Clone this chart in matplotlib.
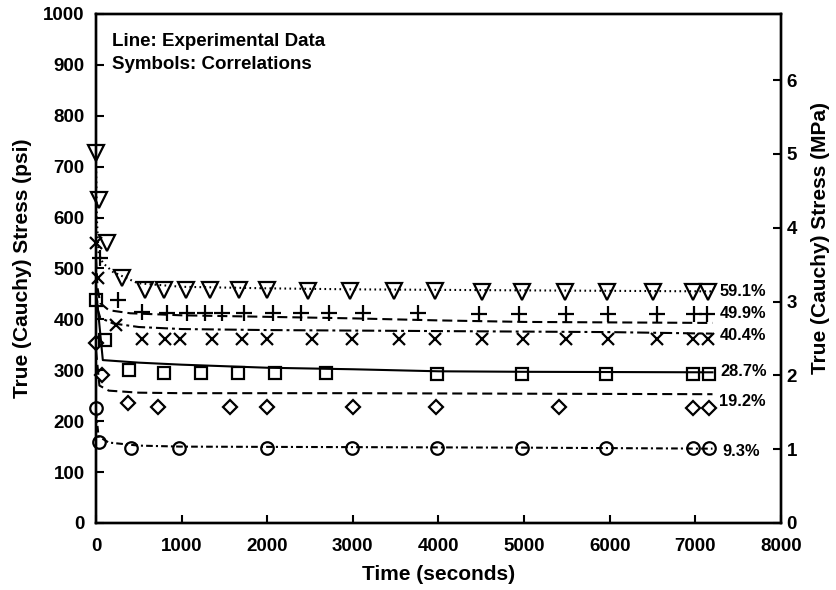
import matplotlib
matplotlib.use("Agg")
import matplotlib.pyplot as plt

plt.rcParams['font.family'] = ['Liberation Sans', 'DejaVu Sans']
plt.rcParams['font.weight'] = 'bold'

# ---------------- data ----------------
labels = ["59.1%", "49.9%", "40.4%", "28.7%", "19.2%", "9.3%"]

# experimental curves (lines)
exp_t_591 = [0, 10, 30, 80, 200, 490, 1000, 2000, 3000, 5000, 7200]
exp_s_591 = [720, 600, 530, 511, 493, 471, 464, 461, 459, 457, 455]
exp_t_499 = [0, 20, 50, 150, 400, 1000, 2000, 3000, 4000, 5000, 7200]
exp_s_499 = [520, 460, 432, 418, 412, 408, 405, 402, 398, 395, 393]
exp_t_404 = [0, 20, 50, 200, 500, 1000, 2000, 4000, 6000, 7200]
exp_s_404 = [470, 420, 403, 392, 385, 381, 379, 377, 375, 372]
exp_t_287 = [0, 12, 80, 500, 1000, 2000, 3000, 4000, 5000, 7200]
exp_s_287 = [450, 438, 320, 315, 311, 305, 302, 298, 297, 296]
exp_t_192 = [0, 40, 150, 500, 1000, 3000, 5000, 7200]
exp_s_192 = [340, 270, 260, 256, 255, 255, 254, 253]
exp_t_93 = [0, 30, 150, 500, 1000, 3000, 5000, 7200]
exp_s_93 = [220, 170, 158, 152, 150, 149, 148, 146]

# correlations (symbols)
cor_t_591 = [0, 35, 128, 304, 572, 794, 1051, 1331, 1670, 1997, 2476, 2966,
             3480, 3959, 4508, 4975, 5477, 5968, 6505, 6972, 7147]
cor_s_591 = [727, 635, 550, 481, 458, 458, 458, 458, 458, 458, 456, 456,
             455, 455, 454, 454, 454, 454, 454, 454, 454]
cor_t_499 = [50, 257, 537, 829, 1063, 1273, 1471, 1728, 2067, 2394, 2721, 3118,
             3760, 4473, 4940, 5489, 5979, 6551, 6984, 7135]
cor_s_499 = [521, 438, 415, 412, 412, 412, 412, 412, 412, 412, 412, 412,
             412, 411, 411, 411, 411, 411, 411, 411]
cor_t_404 = [0, 25, 234, 537, 806, 981, 1355, 1705, 1997, 2523, 2990, 3539,
             3959, 4508, 4987, 5489, 5979, 6551, 6972, 7147]
cor_s_404 = [550, 481, 389, 361, 361, 361, 361, 361, 361, 361, 361, 361,
             361, 361, 361, 361, 361, 361, 361, 361]
cor_t_287 = [0, 105, 385, 794, 1226, 1658, 2090, 2686, 3982, 4975, 5956, 6972, 7159]
cor_s_287 = [438, 360, 300, 294, 294, 294, 294, 294, 293, 293, 293, 293, 293]
cor_t_192 = [0, 70, 374, 724, 1565, 1997, 3001, 3971, 5407, 6972, 7159]
cor_s_192 = [354, 291, 235, 228, 228, 228, 228, 228, 227, 226, 226]
cor_t_93 = [0, 35, 409, 969, 1997, 2990, 3982, 4975, 5956, 6972, 7159]
cor_s_93 = [226, 159, 147, 147, 147, 147, 147, 147, 147, 147, 147]

x_ticks = [0, 1000, 2000, 3000, 4000, 5000, 6000, 7000, 8000]
y_ticks = [0, 100, 200, 300, 400, 500, 600, 700, 800, 900, 1000]
mpa_ticks = [0, 1, 2, 3, 4, 5, 6]
PSI_TO_MPA = 0.00689476

# ---------------- plot ----------------
fig = plt.figure(figsize=(8.36, 5.90), dpi=100)
ax = fig.add_axes([0.1148, 0.1136, 0.8194, 0.8627])

exp_series = [
    (exp_t_591, exp_s_591, (0, (0.8, 1.6))),
    (exp_t_499, exp_s_499, (0, (4.8, 2.4))),
    (exp_t_404, exp_s_404, (0, (5.8, 1.9, 1.4, 1.9))),
    (exp_t_287, exp_s_287, '-'),
    (exp_t_192, exp_s_192, (0, (4.8, 2.4))),
    (exp_t_93, exp_s_93, (0, (3.2, 1.5, 1.0, 1.5))),
]
for t, s, ls in exp_series:
    ax.plot(t, s, color='black', lw=1.5, linestyle=ls)

cor_series = [
    (cor_t_591, cor_s_591, 'v', 11),
    (cor_t_499, cor_s_499, '+', 11),
    (cor_t_404, cor_s_404, 'x', 9),
    (cor_t_287, cor_s_287, 's', 9),
    (cor_t_192, cor_s_192, 'D', 7.5),
    (cor_t_93, cor_s_93, 'o', 9),
]
for t, s, m, ms in cor_series:
    ax.plot(t, s, linestyle='none', marker=m, ms=ms, mfc='none',
            mec='black', mew=1.6, clip_on=False)

label_y = [454, 411, 368, 297, 238, 140]
label_x = [7280, 7280, 7280, 7290, 7280, 7310]
for lx, ly, lab in zip(label_x, label_y, labels):
    ax.text(lx, ly, lab, fontsize=11.8, fontweight='bold', va='center', ha='left')

ax.text(190, 945, "Line: Experimental Data", fontsize=13.5, fontweight='bold',
        va='center', ha='left')
ax.text(190, 900, "Symbols: Correlations", fontsize=13.5, fontweight='bold',
        va='center', ha='left')

ax.set_xlim(0, 8000)
ax.set_ylim(0, 1000)
ax.set_xticks(x_ticks)
ax.set_yticks(y_ticks)
ax.tick_params(axis='x', direction='in', length=6, width=1.5, labelsize=13.5, pad=11)
ax.tick_params(axis='y', direction='in', length=6, width=1.5, labelsize=13.5, pad=8)
for lab in ax.get_xticklabels() + ax.get_yticklabels():
    lab.set_fontweight('bold')
for sp in ax.spines.values():
    sp.set_linewidth(1.7)

ax.set_xlabel("Time (seconds)", fontsize=15, fontweight='bold', labelpad=7)
ax.set_ylabel("True (Cauchy) Stress (psi)", fontsize=15, fontweight='bold', labelpad=8)

ax2 = ax.twinx()
ax2.set_ylim(0, 1000 * PSI_TO_MPA)
ax2.set_yticks(mpa_ticks)
ax2.tick_params(axis='y', direction='in', length=6, width=1.5, labelsize=13.5, pad=4)
for lab in ax2.get_yticklabels():
    lab.set_fontweight('bold')
for sp in ax2.spines.values():
    sp.set_linewidth(1.7)
ax2.set_ylabel("True (Cauchy) Stress (MPa)", fontsize=15, fontweight='bold')
ax2.yaxis.set_label_coords(1.044, 0.559)

fig.savefig("out.png", dpi=100)
